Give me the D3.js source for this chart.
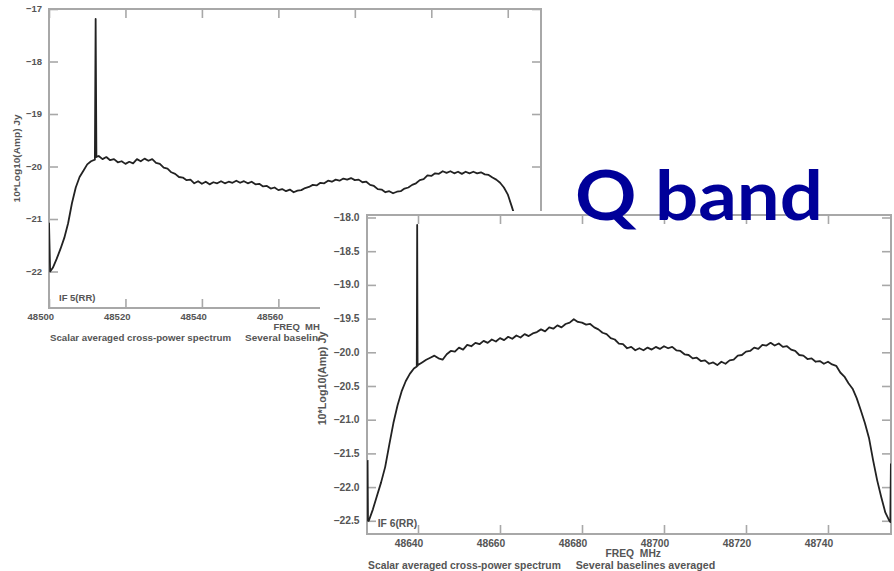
<!DOCTYPE html>
<html>
<head>
<meta charset="utf-8">
<script src="https://cdn.jsdelivr.net/npm/d3@7"></script>
<style>
  html, body { margin: 0; padding: 0; background: #fff; }
  svg { display: block; }
</style>
</head>
<body>
<svg id="chart" width="894" height="571"></svg>
<script>
// ---------------- DATA ----------------
const title = "Q band";
const yLabel = "10*Log10(Amp) Jy";
const xLabel = "FREQ  MHz";
const footLeft = "Scalar averaged cross-power spectrum";
const footRight = "Several baselines averaged";

const panel1Name = "IF 5(RR)";
const xTicks1 = [48500, 48520, 48540, 48560, 48580, 48600, 48620];
const yTicks1 = [-17, -18, -19, -20, -21, -22];
const xDomain1 = [48500, 48628.7];
const yDomain1 = [-22.695, -17];

const panel2Name = "IF 6(RR)";
const xTicks2 = [48640, 48660, 48680, 48700, 48720, 48740];
const yTicks2 = [-18.0, -18.5, -19.0, -19.5, -20.0, -20.5, -21.0, -21.5, -22.0, -22.5];
const xDomain2 = [48627.56, 48755.37];
const yDomain2 = [-22.696, -17.963];

// [frequency MHz, 10*log10(amp)]
const spectrum1 = [
  [48500.0,-21.07],[48500.3,-22.00],[48501,-21.93],[48502,-21.76],[48503,-21.57],[48504,-21.36],
  [48505,-21.08],[48506,-20.70],[48507,-20.40],[48508,-20.20],[48509,-20.08],[48510,-19.96],
  [48511,-19.90],[48512,-19.87],[48512.2,-17.19],[48512.4,-19.82],[48513,-19.80],[48514,-19.86],
  [48515,-19.82],[48516,-19.88],[48517,-19.86],[48518,-19.92],[48519,-19.90],[48520,-19.95],
  [48521,-19.91],[48522,-19.94],[48523,-19.86],[48524,-19.90],[48525,-19.85],[48526,-19.89],
  [48527,-19.86],[48528,-19.93],[48529,-19.95],[48530,-20.02],[48531,-20.04],[48532,-20.11],
  [48533,-20.14],[48534,-20.20],[48535,-20.21],[48536,-20.26],[48537,-20.25],[48538,-20.32],
  [48539,-20.28],[48540,-20.33],[48541,-20.29],[48542,-20.34],[48543,-20.30],[48544,-20.32],
  [48545,-20.28],[48546,-20.32],[48547,-20.29],[48548,-20.31],[48549,-20.27],[48550,-20.31],
  [48551,-20.28],[48552,-20.32],[48553,-20.29],[48554,-20.34],[48555,-20.33],[48556,-20.38],
  [48557,-20.37],[48558,-20.42],[48559,-20.40],[48560,-20.45],[48561,-20.43],[48562,-20.47],
  [48563,-20.44],[48564,-20.49],[48565,-20.46],[48566,-20.45],[48567,-20.41],[48568,-20.39],
  [48569,-20.35],[48570,-20.36],[48571,-20.31],[48572,-20.32],[48573,-20.27],[48574,-20.29],
  [48575,-20.25],[48576,-20.27],[48577,-20.23],[48578,-20.25],[48579,-20.22],[48580,-20.26],
  [48581,-20.25],[48582,-20.30],[48583,-20.29],[48584,-20.35],[48585,-20.37],[48586,-20.43],
  [48587,-20.44],[48588,-20.49],[48589,-20.47],[48590,-20.51],[48591,-20.48],[48592,-20.47],
  [48593,-20.42],[48594,-20.40],[48595,-20.35],[48596,-20.32],[48597,-20.26],[48598,-20.24],
  [48599,-20.17],[48600,-20.18],[48601,-20.13],[48602,-20.14],[48603,-20.09],[48604,-20.12],
  [48605,-20.09],[48606,-20.13],[48607,-20.10],[48608,-20.14],[48609,-20.10],[48610,-20.13],
  [48611,-20.10],[48612,-20.13],[48613,-20.11],[48614,-20.15],[48615,-20.16],[48616,-20.21],
  [48617,-20.25],[48618,-20.31],[48619,-20.40],[48620,-20.53],[48621,-20.75],[48622,-20.98],
  [48623,-21.30],[48624,-21.55],[48625,-21.80],[48626,-22.05],[48627,-22.30],[48628,-22.55]
];

const spectrum2 = [
  [48627.7,-21.60],[48627.8,-22.50],[48628,-22.50],[48629,-22.33],[48630,-22.13],[48631,-21.93],
  [48632,-21.70],[48633,-21.37],[48634,-21.05],[48635,-20.79],[48636,-20.58],[48637,-20.43],
  [48638,-20.32],[48639,-20.24],[48639.7,-20.21],[48639.8,-18.11],[48639.9,-20.20],[48640,-20.19],
  [48641,-20.15],[48642,-20.11],[48643,-20.08],[48644,-20.05],[48645,-20.09],[48646,-20.11],
  [48647,-20.03],[48648,-19.98],[48649,-19.99],[48650,-19.93],[48651,-19.96],[48652,-19.89],
  [48653,-19.91],[48654,-19.86],[48655,-19.88],[48656,-19.83],[48657,-19.86],[48658,-19.81],
  [48659,-19.84],[48660,-19.79],[48661,-19.82],[48662,-19.77],[48663,-19.80],[48664,-19.75],
  [48665,-19.78],[48666,-19.73],[48667,-19.76],[48668,-19.72],[48669,-19.70],[48670,-19.66],
  [48671,-19.69],[48672,-19.63],[48673,-19.65],[48674,-19.60],[48675,-19.63],[48676,-19.58],
  [48677,-19.56],[48678,-19.51],[48679,-19.55],[48680,-19.56],[48681,-19.59],[48682,-19.58],
  [48683,-19.63],[48684,-19.66],[48685,-19.71],[48686,-19.73],[48687,-19.79],[48688,-19.81],
  [48689,-19.87],[48690,-19.88],[48691,-19.94],[48692,-19.92],[48693,-19.97],[48694,-19.94],
  [48695,-19.97],[48696,-19.93],[48697,-19.96],[48698,-19.92],[48699,-19.95],[48700,-19.91],
  [48701,-19.94],[48702,-19.92],[48703,-19.97],[48704,-19.98],[48705,-20.03],[48706,-20.04],
  [48707,-20.09],[48708,-20.08],[48709,-20.13],[48710,-20.12],[48711,-20.17],[48712,-20.15],
  [48713,-20.19],[48714,-20.14],[48715,-20.17],[48716,-20.12],[48717,-20.11],[48718,-20.05],
  [48719,-20.04],[48720,-19.99],[48721,-19.98],[48722,-19.93],[48723,-19.95],[48724,-19.89],
  [48725,-19.90],[48726,-19.86],[48727,-19.90],[48728,-19.87],[48729,-19.92],[48730,-19.91],
  [48731,-19.96],[48732,-19.98],[48733,-20.04],[48734,-20.05],[48735,-20.10],[48736,-20.09],
  [48737,-20.14],[48738,-20.13],[48739,-20.17],[48740,-20.14],[48741,-20.18],[48742,-20.20],
  [48743,-20.30],[48744,-20.36],[48745,-20.46],[48746,-20.54],[48747,-20.68],[48748,-20.86],
  [48749,-21.05],[48750,-21.27],[48751,-21.60],[48752,-21.90],[48753,-22.15],[48754,-22.38],
  [48754.8,-22.48],[48755.2,-22.52],[48755.35,-21.65]
];

// ---------------- LAYOUT ----------------
const svg = d3.select("#chart");
svg.append("rect").attr("width", 894).attr("height", 571).attr("fill", "#fff");

const panels = [
  { id: "p1", name: panel1Name, data: spectrum1, xTicks: xTicks1, yTicks: yTicks1,
    xDomain: xDomain1, yDomain: yDomain1, yFmt: d3.format("d"),
    left: 49, top: 9, right: 541, bottom: 308, font: 9.5, yLabOff: 29, yLabDy: 0,
    bg: null, visibleRight: 320 },
  { id: "p2", name: panel2Name, data: spectrum2, xTicks: xTicks2, yTicks: yTicks2,
    xDomain: xDomain2, yDomain: yDomain2, yFmt: d3.format(".1f"),
    left: 367, top: 215, right: 891, bottom: 534, font: 10.3, yLabOff: 41, yLabDy: 4,
    bg: { x: 320, y: 211 }, visibleRight: null }
];

const frameCol = "#a8a8a8";
const textCol = "#555";
const tickLen = 9;
const FONT = "Liberation Sans, Arial, sans-serif";

panels.forEach(p => {
  const g = svg.append("g");
  if (p.bg) {
    g.append("rect").attr("x", p.bg.x).attr("y", p.bg.y)
      .attr("width", 894 - p.bg.x).attr("height", 571 - p.bg.y).attr("fill", "#fff");
  }
  const w = p.right - p.left, h = p.bottom - p.top;
  const k = w / 492; // text scaling relative to panel 1
  const x = d3.scaleLinear().domain(p.xDomain).range([p.left, p.right]);
  const y = d3.scaleLinear().domain(p.yDomain).range([p.bottom, p.top]);

  svg.append("clipPath").attr("id", "clip-" + p.id)
    .append("rect").attr("x", p.left).attr("y", p.top).attr("width", w).attr("height", h);

  const tg = g.append("g");
  if (p.visibleRight) {
    svg.append("clipPath").attr("id", "tclip-" + p.id)
      .append("rect").attr("x", 0).attr("y", 0)
      .attr("width", p.visibleRight).attr("height", 571);
  }

  // ticks on all four sides, pointing inward
  const axB = d3.axisBottom(x).tickValues(p.xTicks).tickSize(tickLen).tickFormat("");
  const axT = d3.axisTop(x).tickValues(p.xTicks).tickSize(tickLen).tickFormat("");
  const axL = d3.axisLeft(y).tickValues(p.yTicks).tickSize(tickLen).tickFormat("");
  const axR = d3.axisRight(y).tickValues(p.yTicks).tickSize(tickLen).tickFormat("");
  const axes = [
    g.append("g").attr("transform", `translate(0,${p.bottom - tickLen})`).call(axB),
    g.append("g").attr("transform", `translate(0,${p.top + tickLen})`).call(axT),
    g.append("g").attr("transform", `translate(${p.left + tickLen},0)`).call(axL),
    g.append("g").attr("transform", `translate(${p.right - tickLen},0)`).call(axR)
  ];
  axes.forEach(a => {
    a.select(".domain").remove();
    a.selectAll(".tick line").attr("stroke", frameCol).attr("stroke-width", 1.6);
  });

  // frame
  g.append("rect").attr("x", p.left).attr("y", p.top).attr("width", w).attr("height", h)
    .attr("fill", "none").attr("stroke", frameCol).attr("stroke-width", 2);

  // tick labels (labels hidden under the overlapping panel are not drawn)
  const fs = p.font;
  const shownX = p.visibleRight ? p.xTicks.filter(d => x(d) + 5 * k < p.visibleRight) : p.xTicks;
  tg.selectAll(".xl").data(shownX).enter().append("text")
    .attr("x", d => x(d) + 5 * k).attr("y", p.bottom + 9 * k + fs * 0.35)
    .attr("text-anchor", "end").attr("font-size", fs).attr("font-weight", "bold")
    .attr("font-family", FONT).attr("fill", textCol)
    .text(d => d);
  tg.selectAll(".yl").data(p.yTicks).enter().append("text")
    .attr("x", p.left - 7 * k).attr("y", d => y(d) + fs * 0.35)
    .attr("text-anchor", "end").attr("font-size", fs).attr("font-weight", "bold")
    .attr("font-family", FONT).attr("fill", textCol)
    .text(d => p.yFmt(d));

  // axis titles
  tg.append("text")
    .attr("transform", `translate(${p.left - p.yLabOff},${(p.top + p.bottom) / 2 + p.yLabDy}) rotate(-90)`)
    .attr("text-anchor", "middle").attr("font-size", fs).attr("font-weight", "bold")
    .attr("font-family", FONT).attr("fill", textCol)
    .attr("textLength", 88 * k).attr("lengthAdjust", "spacingAndGlyphs")
    .text(yLabel);
  const bottomTexts = tg.append("g");
  if (p.visibleRight) bottomTexts.attr("clip-path", `url(#tclip-${p.id})`);
  bottomTexts.append("text")
    .attr("x", (p.left + p.right) / 2 + 4 * k).attr("y", p.bottom + 18.5 * k + fs * 0.35)
    .attr("text-anchor", "middle").attr("font-size", fs).attr("font-weight", "bold")
    .attr("font-family", FONT).attr("fill", textCol)
    .attr("xml:space", "preserve")
    .text(xLabel);
  bottomTexts.append("text")
    .attr("x", p.left + 1 * k).attr("y", p.bottom + 29.5 * k + fs * 0.35)
    .attr("font-size", fs).attr("font-weight", "bold")
    .attr("font-family", FONT).attr("fill", textCol)
    .attr("textLength", 181 * k).attr("lengthAdjust", "spacingAndGlyphs")
    .text(footLeft);
  bottomTexts.append("text")
    .attr("x", p.left + 196 * k).attr("y", p.bottom + 29.5 * k + fs * 0.35)
    .attr("font-size", fs).attr("font-weight", "bold")
    .attr("font-family", FONT).attr("fill", textCol)
    .attr("textLength", 131 * k).attr("lengthAdjust", "spacingAndGlyphs")
    .text(footRight);

  // panel name
  tg.append("text")
    .attr("x", p.left + 10 * k).attr("y", p.bottom - 10 * k + fs * 0.35)
    .attr("font-size", fs).attr("font-weight", "bold")
    .attr("font-family", FONT).attr("fill", textCol)
    .text(p.name);

  // spectrum
  const line = d3.line().x(d => x(d[0])).y(d => y(d[1]));
  g.append("path").datum(p.data)
    .attr("clip-path", `url(#clip-${p.id})`)
    .attr("d", line).attr("fill", "none")
    .attr("stroke", "#222").attr("stroke-width", 1.8)
    .attr("stroke-linejoin", "round");
});

// big title
svg.append("text")
  .attr("x", 575).attr("y", 220)
  .attr("font-family", "Lato, 'Open Sans', sans-serif").attr("font-weight", "700")
  .attr("font-size", 68).attr("fill", "#000099")
  .attr("textLength", 248).attr("lengthAdjust", "spacingAndGlyphs")
  .text(title);
</script>
</body>
</html>
